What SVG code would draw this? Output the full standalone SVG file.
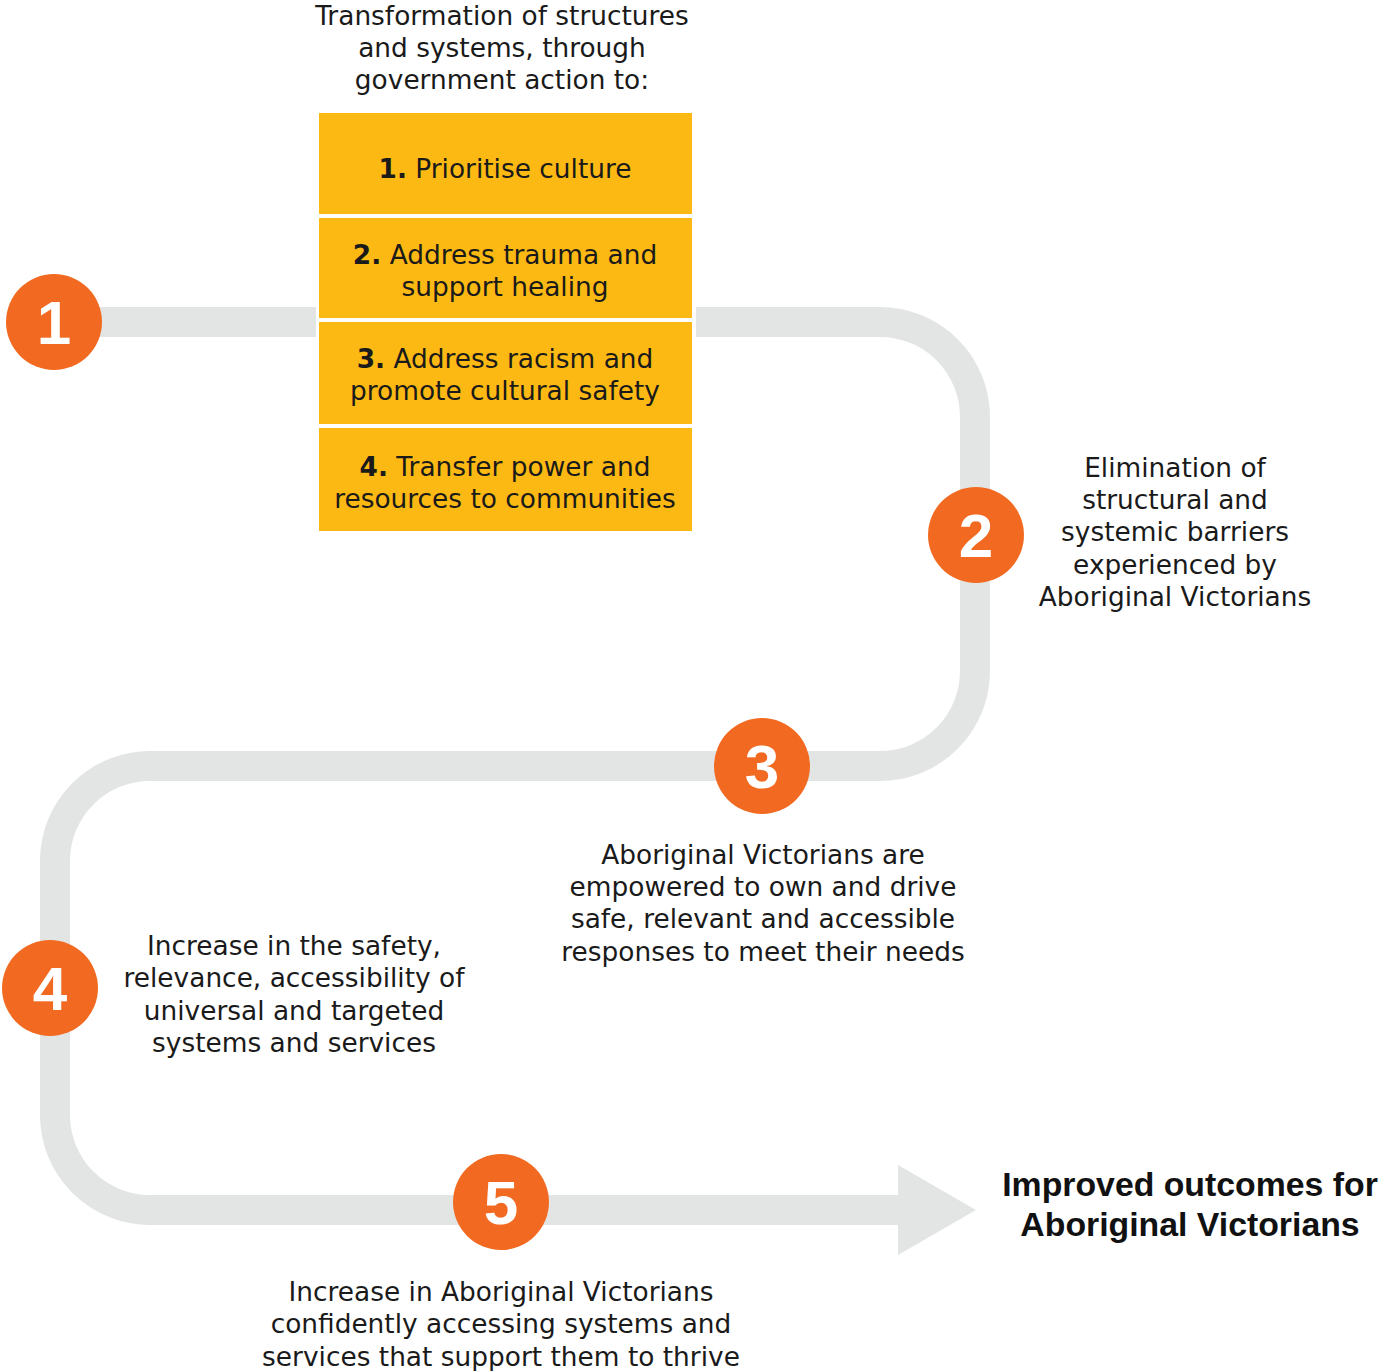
<svg xmlns="http://www.w3.org/2000/svg" width="1389" height="1371" viewBox="0 0 1389 1371">
<style>
.t{font-family:"DejaVu Sans","Liberation Sans",sans-serif;font-size:26.4px;fill:#1a1a1a;text-anchor:middle}
.b{font-weight:bold}
.box{fill:#FDB913}
.circ{fill:#F26A21}
.num{font-family:"Liberation Sans","DejaVu Sans",sans-serif;font-weight:bold;font-size:62px;fill:#ffffff;text-anchor:middle}
.band{fill:none;stroke:#E3E4E4;stroke-width:30}
.goal{font-family:"Liberation Sans","DejaVu Sans",sans-serif;font-weight:bold;font-size:33.8px;fill:#111;text-anchor:middle}
</style>
<rect width="1389" height="1371" fill="#ffffff"/>
<g id="connectors">
<path class="band" d="M54 322 H316"/>
<path class="band" d="M696 322 H880 A95 95 0 0 1 975 417 V671 A95 95 0 0 1 880 766 H150 A95 95 0 0 0 55 861 V1115 A95 95 0 0 0 150 1210 H900"/>
<polygon points="898,1165 976,1210 898,1255" fill="#E3E4E4"/>
</g>
<g id="intro">
<text class="t" x="502" y="25">Transformation of structures</text>
<text class="t" x="502" y="57">and systems, through</text>
<text class="t" x="502" y="89">government action to:</text>
</g>
<g id="action1">
<rect class="box" x="319" y="113" width="373" height="101"/>
<text class="t" x="505" y="178"><tspan class="b">1.</tspan> Prioritise culture</text>
</g>
<g id="action2">
<rect class="box" x="319" y="218" width="373" height="100"/>
<text class="t" x="505" y="264"><tspan class="b">2.</tspan> Address trauma and</text>
<text class="t" x="505" y="296">support healing</text>
</g>
<g id="action3">
<rect class="box" x="319" y="322" width="373" height="102"/>
<text class="t" x="505" y="368"><tspan class="b">3.</tspan> Address racism and</text>
<text class="t" x="505" y="400">promote cultural safety</text>
</g>
<g id="action4">
<rect class="box" x="319" y="428" width="373" height="103"/>
<text class="t" x="505" y="476"><tspan class="b">4.</tspan> Transfer power and</text>
<text class="t" x="505" y="508">resources to communities</text>
</g>
<g id="step1">
<circle class="circ" cx="54" cy="322" r="48"/>
<text class="num" x="54" y="344">1</text>
</g>
<g id="step2">
<circle class="circ" cx="976" cy="535" r="48"/>
<text class="num" x="976" y="557">2</text>
<text class="t" x="1175" y="477">Elimination of</text>
<text class="t" x="1175" y="509">structural and</text>
<text class="t" x="1175" y="541">systemic barriers</text>
<text class="t" x="1175" y="574">experienced by</text>
<text class="t" x="1175" y="606">Aboriginal Victorians</text>
</g>
<g id="step3">
<circle class="circ" cx="762" cy="766" r="48"/>
<text class="num" x="762" y="788">3</text>
<text class="t" x="763" y="864">Aboriginal Victorians are</text>
<text class="t" x="763" y="896">empowered to own and drive</text>
<text class="t" x="763" y="928">safe, relevant and accessible</text>
<text class="t" x="763" y="961">responses to meet their needs</text>
</g>
<g id="step4">
<circle class="circ" cx="50" cy="988" r="48"/>
<text class="num" x="50" y="1010">4</text>
<text class="t" x="294" y="955">Increase in the safety,</text>
<text class="t" x="294" y="987">relevance, accessibility of</text>
<text class="t" x="294" y="1020">universal and targeted</text>
<text class="t" x="294" y="1052">systems and services</text>
</g>
<g id="step5">
<circle class="circ" cx="501" cy="1202" r="48"/>
<text class="num" x="501" y="1224">5</text>
<text class="t" x="501" y="1301">Increase in Aboriginal Victorians</text>
<text class="t" x="501" y="1333">confidently accessing systems and</text>
<text class="t" x="501" y="1366">services that support them to thrive</text>
</g>
<g id="outcome">
<text class="goal" x="1190" y="1196">Improved outcomes for</text>
<text class="goal" x="1190" y="1236">Aboriginal Victorians</text>
</g>
</svg>
